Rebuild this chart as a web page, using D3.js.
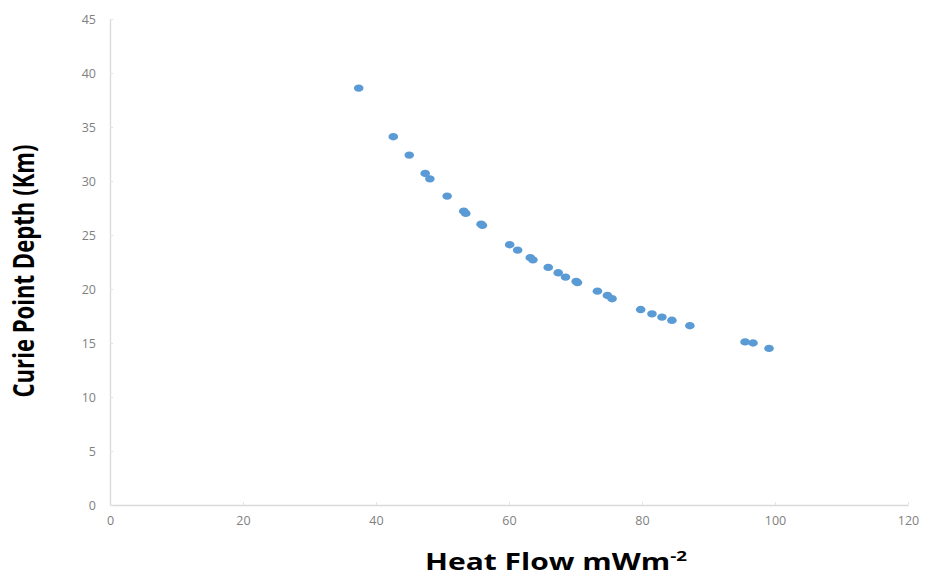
<!DOCTYPE html>
<html>
<head>
<meta charset="utf-8">
<script src="https://cdn.jsdelivr.net/npm/d3@7"></script>
<style>
  body { margin: 0; background: #fff; }
  svg { display: block; }
</style>
</head>
<body>
<svg width="925" height="577"></svg>
<script>
// heat flow (mW/m2) vs curie point depth (km)
var heatFlow = [
  37.4, 42.6, 45.0, 47.4, 48.1, 50.7, 53.2, 53.5, 55.8, 56.0,
  60.1, 61.3, 63.2, 63.6, 65.9, 67.4, 68.5, 70.1, 70.3, 73.3,
  74.8, 75.5, 79.8, 81.5, 83.0, 84.5, 87.2, 95.5, 96.7, 99.1
];
var depth = [
  38.6, 34.1, 32.4, 30.7, 30.2, 28.6, 27.2, 27.0, 26.0, 25.9,
  24.1, 23.6, 22.9, 22.7, 22.0, 21.5, 21.1, 20.7, 20.6, 19.8,
  19.4, 19.1, 18.1, 17.7, 17.4, 17.1, 16.6, 15.1, 15.0, 14.5
];
var xTicks = [0, 20, 40, 60, 80, 100, 120];
var yTicks = [0, 5, 10, 15, 20, 25, 30, 35, 40, 45];

var svg = d3.select('svg');

var x = d3.scaleLinear().domain([0, 120]).range([110, 908]);
var y = d3.scaleLinear().domain([0, 45]).range([505, 19]);

var xAxis = svg.append('g')
  .attr('transform', 'translate(0,505)')
  .call(d3.axisBottom(x).tickValues(xTicks).tickSizeInner(-3).tickSizeOuter(0).tickPadding(11));

var yAxis = svg.append('g')
  .attr('transform', 'translate(110,0)')
  .call(d3.axisLeft(y).tickValues(yTicks).tickSizeInner(-3).tickSizeOuter(0).tickPadding(14));

[xAxis, yAxis].forEach(function (g) {
  g.select('.domain').attr('stroke', '#d9d9d9').attr('stroke-width', 1.3);
  g.selectAll('.tick line').attr('stroke', '#e3e3e3');
  g.selectAll('.tick text')
    .attr('fill', '#7f7f7f')
    .style('font-family', 'Open Sans')
    .style('font-size', '12.5px');
});

svg.selectAll('ellipse')
  .data(heatFlow)
  .enter()
  .append('ellipse')
  .attr('cx', function (d) { return x(d); })
  .attr('cy', function (d, i) { return y(depth[i]); })
  .attr('rx', 4.8)
  .attr('ry', 3.7)
  .attr('fill', '#5b9bd5');

// axis titles
var xt = svg.append('text')
  .attr('x', 425)
  .attr('y', 570)
  .attr('textLength', 262)
  .attr('lengthAdjust', 'spacingAndGlyphs')
  .style('font-family', 'Open Sans')
  .style('font-weight', 'bold')
  .style('font-size', '24px')
  .attr('fill', '#000');
xt.append('tspan').text('Heat Flow mWm');
xt.append('tspan').attr('dy', -9).style('font-size', '15px').text('-2');

svg.append('text')
  .attr('transform', 'translate(34,271) rotate(-90)')
  .attr('text-anchor', 'middle')
  .attr('textLength', 253)
  .attr('lengthAdjust', 'spacingAndGlyphs')
  .style('font-family', 'Open Sans')
  .style('font-weight', 'bold')
  .style('font-size', '28px')
  .attr('fill', '#000')
  .text('Curie Point Depth (Km)');
</script>
</body>
</html>
